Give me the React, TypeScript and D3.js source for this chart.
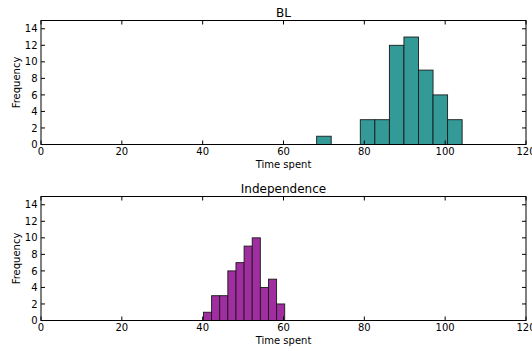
import React from "react";
import * as d3 from "d3";

const blEdgesStart = 68.2;
const blBinWidth = 3.6;
const blCounts = [1, 0, 0, 3, 3, 12, 13, 9, 6, 3];

const indEdgesStart = 40.2;
const indBinWidth = 2.01;
const indCounts = [1, 3, 3, 6, 7, 9, 10, 4, 5, 2];

const xTicks = [0, 20, 40, 60, 80, 100, 120];
const yTicks = [0, 2, 4, 6, 8, 10, 12, 14];

const W = 532;
const H = 351;
const left = 41;
const right = 526;

const font = "DejaVu Sans, sans-serif";

function Hist({ top, bottom, title, start, width, counts, color }: any) {
  const x = d3.scaleLinear().domain([0, 120]).range([left, right]);
  const y = d3.scaleLinear().domain([0, 15]).range([bottom, top]);
  const bins = counts.map((c: number, i: number) => ({ x0: start + i * width, x1: start + (i + 1) * width, c }));
  return (
    <g>
      {bins.filter((b: any) => b.c > 0).map((b: any, i: number) => (
        <rect key={i} x={x(b.x0)} y={y(b.c)} width={x(b.x1) - x(b.x0)} height={y(0) - y(b.c)}
          fill={color} stroke="#1a1a1a" strokeWidth={0.9} />
      ))}
      <rect x={left} y={top} width={right - left} height={bottom - top} fill="none" stroke="#000" strokeWidth={1} />
      {xTicks.map((t) => (
        <g key={"x" + t}>
          <line x1={x(t)} x2={x(t)} y1={bottom} y2={bottom - 4} stroke="#000" />
          <line x1={x(t)} x2={x(t)} y1={top} y2={top + 4} stroke="#000" />
          <text x={x(t)} y={bottom + 10.5} textAnchor="middle" fontSize={10} fontFamily={font}>{t}</text>
        </g>
      ))}
      {yTicks.map((t) => (
        <g key={"y" + t}>
          <line x1={left} x2={left + 4} y1={y(t)} y2={y(t)} stroke="#000" />
          <line x1={right} x2={right - 4} y1={y(t)} y2={y(t)} stroke="#000" />
          <text x={left - 3.5} y={y(t) + 3.6} textAnchor="end" fontSize={10} fontFamily={font}>{t}</text>
        </g>
      ))}
      <text x={(left + right) / 2} y={top - 4} textAnchor="middle" fontSize={12} fontFamily={font}>{title}</text>
      <text x={(left + right) / 2} y={bottom + 23.5} textAnchor="middle" fontSize={10} fontFamily={font}>Time spent</text>
      <text transform={`translate(20,${(top + bottom) / 2}) rotate(-90)`} textAnchor="middle" fontSize={10} fontFamily={font}>Frequency</text>
    </g>
  );
}

export default function App() {
  return (
    <svg width={W} height={H} style={{ position: "absolute", left: 0, top: 0, background: "#fff" }}>
      <rect width={W} height={H} fill="#fff" />
      <Hist top={20.5} bottom={144.5} title="BL" start={blEdgesStart} width={blBinWidth} counts={blCounts} color="#339a98" />
      <Hist top={196.5} bottom={320.5} title="Independence" start={indEdgesStart} width={indBinWidth} counts={indCounts} color="#a02ea0" />
    </svg>
  );
}
